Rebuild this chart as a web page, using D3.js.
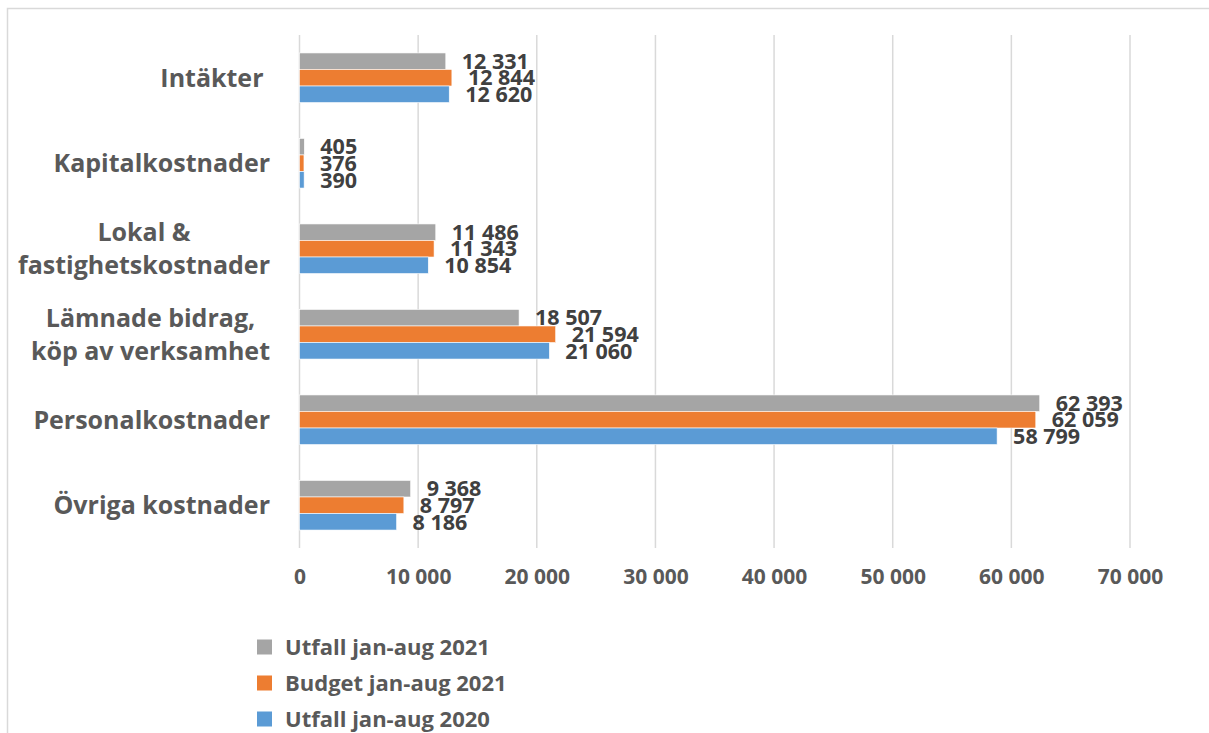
<!DOCTYPE html>
<html><head><meta charset="utf-8">
<script src="https://cdn.jsdelivr.net/npm/d3@7"></script>
<style>body{margin:0;background:#fff;}svg{display:block;font-family:"Open Sans",sans-serif;font-weight:bold;}text{white-space:pre;}</style>
</head><body>
<svg id="c" width="1209" height="733"></svg>
<script>
const categories = [["Intäkter "], ["Kapitalkostnader"], ["Lokal &", "fastighetskostnader"], ["Lämnade bidrag,", "köp av verksamhet"], ["Personalkostnader"], ["Övriga kostnader"]];
const seriesNames = ["Utfall jan-aug 2021", "Budget jan-aug 2021", "Utfall jan-aug 2020"];
const seriesColors = ["#A5A5A5", "#ED7D31", "#5B9BD5"];
const utfall2021 = [12331, 405, 11486, 18507, 62393, 9368];
const budget2021 = [12844, 376, 11343, 21594, 62059, 8797];
const utfall2020 = [12620, 390, 10854, 21060, 58799, 8186];
const xTicks = [0, 10000, 20000, 30000, 40000, 50000, 60000, 70000];

const series = [utfall2021, budget2021, utfall2020];
const fmt = v => d3.format(",")(v).replace(/,/g, " ");
const svg = d3.select("#c");

svg.append("rect").attr("x", 7.5).attr("y", 8.5).attr("width", 1300).attr("height", 800)
  .attr("fill", "none").attr("stroke", "#d9d9d9").attr("stroke-width", 1.5);

const x = d3.scaleLinear().domain([0, 70000]).range([299.5, 1130]);
const catKeys = categories.map((c, i) => i);
const y0 = d3.scaleBand().domain(catKeys).range([35, 548]).paddingInner(0.42).paddingOuter(0.21);
const y1 = d3.scaleBand().domain([0, 1, 2]).range([0, y0.bandwidth()]);

// gridlines
svg.append("g").selectAll("line").data(xTicks).join("line")
  .attr("x1", d => x(d)).attr("x2", d => x(d)).attr("y1", 35).attr("y2", 548)
  .attr("stroke", "#d9d9d9").attr("stroke-width", 1.5);

// x axis labels
const xAxis = d3.axisBottom(x).tickValues(xTicks).tickFormat(fmt).tickSize(0).tickPadding(0);
const gx = svg.append("g").attr("transform", "translate(0,573)").call(xAxis);
gx.select(".domain").remove();
gx.selectAll("text").attr("fill", "#595959").attr("font-size", 21).attr("font-weight", "bold")
  .attr("font-family", "'Open Sans',sans-serif").attr("dy", "0.5em");

// bars
const groups = svg.append("g").selectAll("g").data(catKeys).join("g")
  .attr("transform", i => `translate(0,${y0(i)})`);
groups.selectAll("rect").data(i => series.map((s, k) => ({k, v: s[i]}))).join("rect")
  .attr("x", x(0)).attr("y", d => y1(d.k)).attr("height", y1.bandwidth())
  .attr("width", d => x(d.v) - x(0)).attr("fill", d => seriesColors[d.k])
  .attr("stroke", "#fff").attr("stroke-width", 0.6);
groups.selectAll("text").data(i => series.map((s, k) => ({k, v: s[i]}))).join("text")
  .attr("x", d => x(d.v) + 16).attr("y", d => y1(d.k) + y1.bandwidth() / 2).attr("dy", "0.36em")
  .attr("fill", "#404040").attr("font-size", 21.5).text(d => fmt(d.v));

// category labels
const labelRight = 270;
catKeys.forEach(i => {
  const lines = categories[i];
  const cy = y0(i) + y0.bandwidth() / 2;
  const g = svg.append("g");
  const texts = lines.map((t, j) => g.append("text").attr("fill", "#595959").attr("font-size", 25)
    .attr("text-anchor", "middle").attr("y", cy + (j - (lines.length - 1) / 2) * 33).attr("dy", "0.36em").text(t));
  const w = d3.max(texts, t => t.node().getComputedTextLength());
  texts.forEach(t => t.attr("x", labelRight - w / 2));
});

// legend
const leg = svg.append("g").selectAll("g").data(seriesNames).join("g")
  .attr("transform", (d, i) => `translate(257,${647 + i * 36})`);
leg.append("rect").attr("x", 0).attr("y", -7.5).attr("width", 15).attr("height", 15).attr("fill", (d, i) => seriesColors[i]);
leg.append("text").attr("x", 28).attr("y", 0).attr("dy", "0.36em").attr("fill", "#595959").attr("font-size", 22).text(d => d);
</script>
</body></html>
